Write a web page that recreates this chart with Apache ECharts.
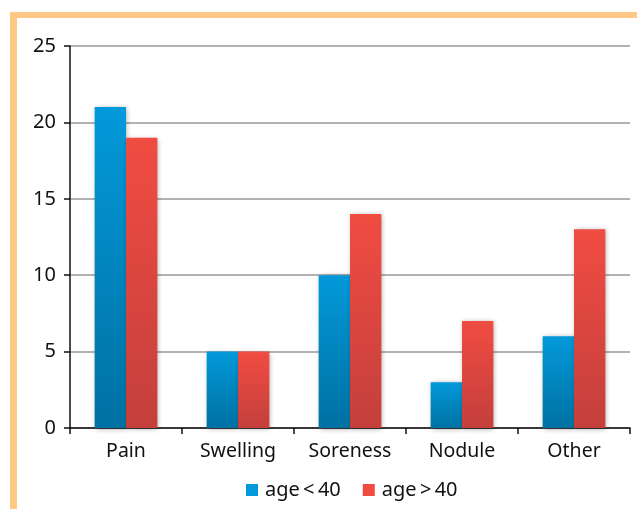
<!DOCTYPE html>
<html><head><meta charset="utf-8">
<script src="https://cdn.jsdelivr.net/npm/echarts@6/dist/echarts.min.js"></script>
<style>html,body{margin:0;padding:0;background:#fff}#c{width:637px;height:509px}</style>
</head><body><div id="c"></div>
<script>
const categories = ['Pain', 'Swelling', 'Soreness', 'Nodule', 'Other'];
const under40 = [21, 5, 10, 3, 6];
const over40 = [19, 5, 14, 7, 13];
const yTicks = { min: 0, max: 25, interval: 5 };
const seriesNames = ['age\u2009<\u200940', 'age\u2009>\u200940'];

const chart = echarts.init(document.getElementById('c'), null, { renderer: 'canvas' });
const font = 'Noto Sans';
function grad(top, bottom) {
  return new echarts.graphic.LinearGradient(0, 0, 0, 1, [
    { offset: 0, color: top }, { offset: 1, color: bottom }
  ]);
}
chart.setOption({
  animation: false,
  backgroundColor: '#fff',
  textStyle: { fontFamily: font },
  graphic: [
    { type: 'rect', shape: { x: 10, y: 12, width: 627, height: 6 }, style: { fill: '#FFC885' }, z: 100 },
    { type: 'rect', shape: { x: 10, y: 12, width: 7, height: 497 }, style: { fill: '#FFC885' }, z: 100 }
  ],
  grid: { left: 70, right: 7, top: 46, bottom: 81, containLabel: false },
  legend: {
    top: 475, left: 241, itemWidth: 12, itemHeight: 12, itemGap: 22,
    icon: 'rect',
    textStyle: { fontSize: 20, color: '#111', fontFamily: font, padding: [0, 0, 0, 2] },
    data: [
      { name: seriesNames[0], itemStyle: { color: '#0399DA' } },
      { name: seriesNames[1], itemStyle: { color: '#F04C42' } }
    ]
  },
  xAxis: {
    type: 'category', data: categories,
    axisLine: { lineStyle: { color: '#111', width: 1.5 } },
    axisTick: { show: true, length: 6, lineStyle: { color: '#111', width: 1.5 } },
    axisLabel: { fontSize: 19.5, color: '#111', margin: 13, fontFamily: font }
  },
  yAxis: {
    type: 'value', min: yTicks.min, max: yTicks.max, interval: yTicks.interval,
    axisLine: { show: true, lineStyle: { color: '#111', width: 1.5 } },
    axisTick: { show: true, length: 6, lineStyle: { color: '#111', width: 1.5 } },
    axisLabel: { fontSize: 20, color: '#111', margin: 14, fontFamily: font },
    splitLine: { lineStyle: { color: '#999', width: 1.5 } }
  },
  series: [
    { name: seriesNames[0], type: 'bar', data: under40, barGap: '0%', barCategoryGap: '44%',
      itemStyle: { color: grad('#0399DA', '#0071A2'), shadowColor: 'rgba(0,0,0,0.35)', shadowBlur: 5, shadowOffsetX: 1, shadowOffsetY: 1 } },
    { name: seriesNames[1], type: 'bar', data: over40,
      itemStyle: { color: grad('#F04C42', '#C43F3C'), shadowColor: 'rgba(0,0,0,0.35)', shadowBlur: 5, shadowOffsetX: 1, shadowOffsetY: 1 } }
  ]
});
</script></body></html>
